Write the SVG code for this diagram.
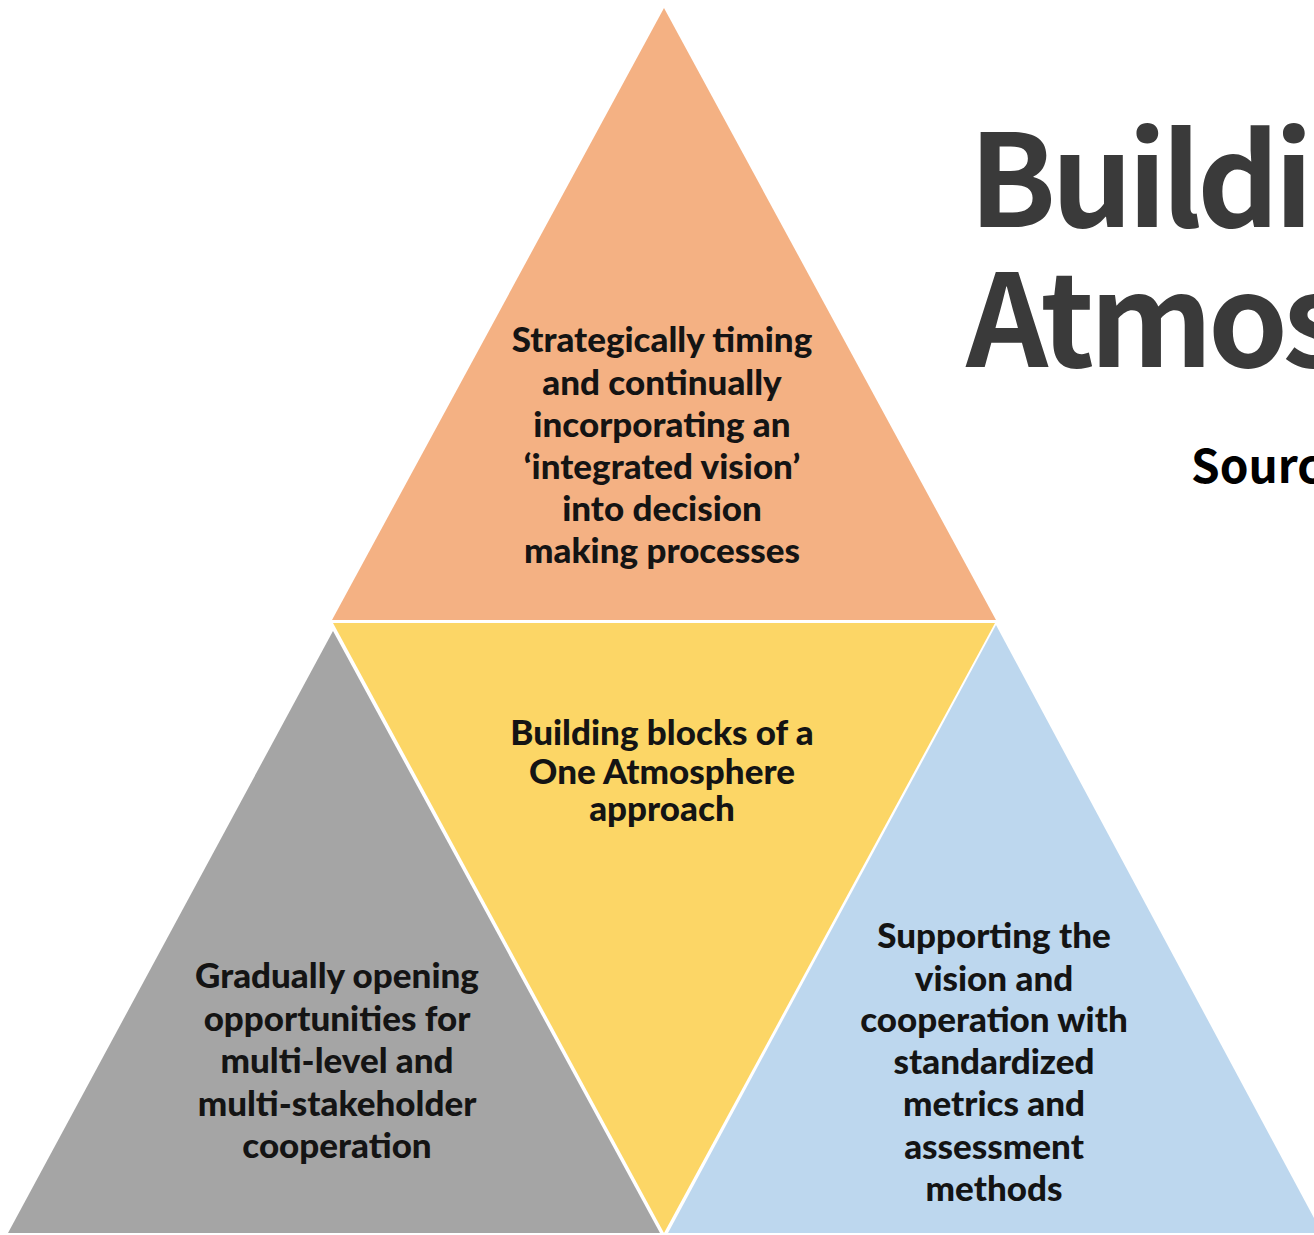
<svg xmlns="http://www.w3.org/2000/svg" width="1314" height="1235" viewBox="0 0 1314 1235">
<style>
.lbl{font-family:Lato,"Open Sans","Liberation Sans",sans-serif;font-weight:900;font-size:35px;fill:#141414;text-anchor:middle}
.title{font-family:"Noto Sans CJK JP","Noto Sans",sans-serif;font-weight:bold;font-size:128px;fill:#3a3a3a;letter-spacing:-5px}
.src{font-family:"Noto Sans CJK JP","Noto Sans",sans-serif;font-weight:bold;font-size:46px;fill:#000}
</style>
<rect width="1314" height="1235" fill="#ffffff"/>
<g id="title">
<text class="title" x="969" y="227">Building</text>
<text class="title" x="966" y="367">Atmosphere</text>
<text class="src" x="1191" y="483">Source:</text>
</g>
<g id="top">
<polygon points="664,8 332,620 996,620" fill="#F4B183"/>
<text class="lbl" x="662" y="352">Strategically timing</text>
<text class="lbl" x="662" y="395">and continually</text>
<text class="lbl" x="662" y="437">incorporating an</text>
<text class="lbl" x="662" y="479">‘integrated vision’</text>
<text class="lbl" x="662" y="521">into decision</text>
<text class="lbl" x="662" y="563">making processes</text>
</g>
<g id="center">
<polygon points="333,623 995,623 664,1233" fill="#FCD666"/>
<text class="lbl" x="662" y="745">Building blocks of a</text>
<text class="lbl" x="662" y="784">One Atmosphere</text>
<text class="lbl" x="662" y="821">approach</text>
</g>
<g id="left">
<polygon points="333,631 660,1233 8,1233" fill="#A5A5A5"/>
<text class="lbl" x="337" y="988">Gradually opening</text>
<text class="lbl" x="337" y="1031">opportunities for</text>
<text class="lbl" x="337" y="1073">multi-level and</text>
<text class="lbl" x="337" y="1116">multi-stakeholder</text>
<text class="lbl" x="337" y="1158">cooperation</text>
</g>
<g id="right">
<polygon points="996,625 1322,1233 668,1233" fill="#BDD7EE"/>
<text class="lbl" x="994" y="948">Supporting the</text>
<text class="lbl" x="994" y="991">vision and</text>
<text class="lbl" x="994" y="1032">cooperation with</text>
<text class="lbl" x="994" y="1074">standardized</text>
<text class="lbl" x="994" y="1116">metrics and</text>
<text class="lbl" x="994" y="1159">assessment</text>
<text class="lbl" x="994" y="1201">methods</text>
</g>
<g id="connectors"></g>
</svg>
